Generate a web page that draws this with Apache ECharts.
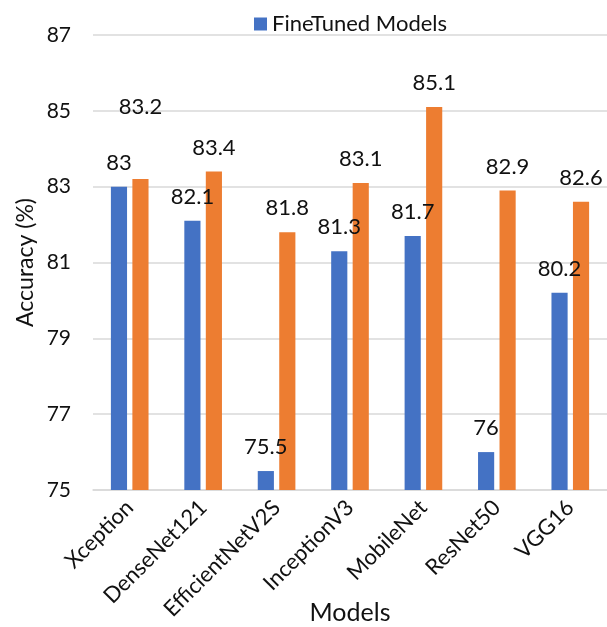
<!DOCTYPE html>
<html>
<head>
<meta charset="utf-8">
<script src="https://cdn.jsdelivr.net/npm/echarts@6/dist/echarts.min.js"></script>
<style>html,body{margin:0;padding:0;background:#fff}#c{width:607px;height:627px}</style>
</head>
<body>
<div id="c"></div>
<script>
const categories = ['Xception','DenseNet121','EfficientNetV2S','InceptionV3','MobileNet','ResNet50','VGG16'];
const fineTuned = [83, 82.1, 75.5, 81.3, 81.7, 76, 80.2];
const second = [83.2, 83.4, 81.8, 83.1, 85.1, 82.9, 82.6];
const yTicks = [75, 77, 79, 81, 83, 85, 87];

const FONT = 'Lato';
const chart = echarts.init(document.getElementById('c'), null, {renderer:'canvas'});
const labelStyle = {show:true, position:'top', distance:13, color:'#111', fontFamily:FONT, fontSize:22};
// the Xception label of the second series sits higher in the reference
const secondData = second.map((v,i)=> i===0 ? {value:v, label:{offset:[0,-48]}} : v);

chart.setOption({
  animation:false,
  textStyle:{fontFamily:FONT},
  legend:{
    data:['FineTuned Models'], top:8, left:249,
    itemWidth:13, itemHeight:13, itemGap:6,
    icon:'rect',
    textStyle:{fontFamily:FONT, fontSize:22, color:'#111'}
  },
  grid:{left:93, right:0, top:35, bottom:137, outerBoundsMode:'none', containLabel:false},
  xAxis:{
    type:'category', data:categories,
    name:'Models', nameLocation:'middle', nameGap:110, nameMoveOverlap:false,
    nameTextStyle:{fontFamily:FONT, fontSize:25, color:'#111'},
    axisLine:{show:true, lineStyle:{color:'#d9d9d9', width:1.5}},
    axisTick:{show:false},
    axisLabel:{rotate:45, margin:14, interval:0, fontFamily:FONT, fontSize:22, color:'#111'}
  },
  yAxis:{
    type:'value', min:yTicks[0], max:yTicks[yTicks.length-1], interval:2,
    name:'Accuracy (%)', nameLocation:'middle', nameGap:56, nameRotate:90, nameMoveOverlap:false,
    nameTextStyle:{fontFamily:FONT, fontSize:23, color:'#111'},
    axisLine:{show:false}, axisTick:{show:false},
    axisLabel:{margin:22, fontFamily:FONT, fontSize:21, color:'#111'},
    splitLine:{lineStyle:{color:'#d9d9d9', width:1.5}}
  },
  series:[
    {name:'FineTuned Models', type:'bar', data:fineTuned, barWidth:'22%', barGap:'33%',
     itemStyle:{color:'#4472C4'}, label:labelStyle},
    {name:'Pretrained Models', type:'bar', data:secondData, barWidth:'22%', barGap:'33%',
     itemStyle:{color:'#ED7D31'}, label:labelStyle}
  ]
});
</script>
</body>
</html>
